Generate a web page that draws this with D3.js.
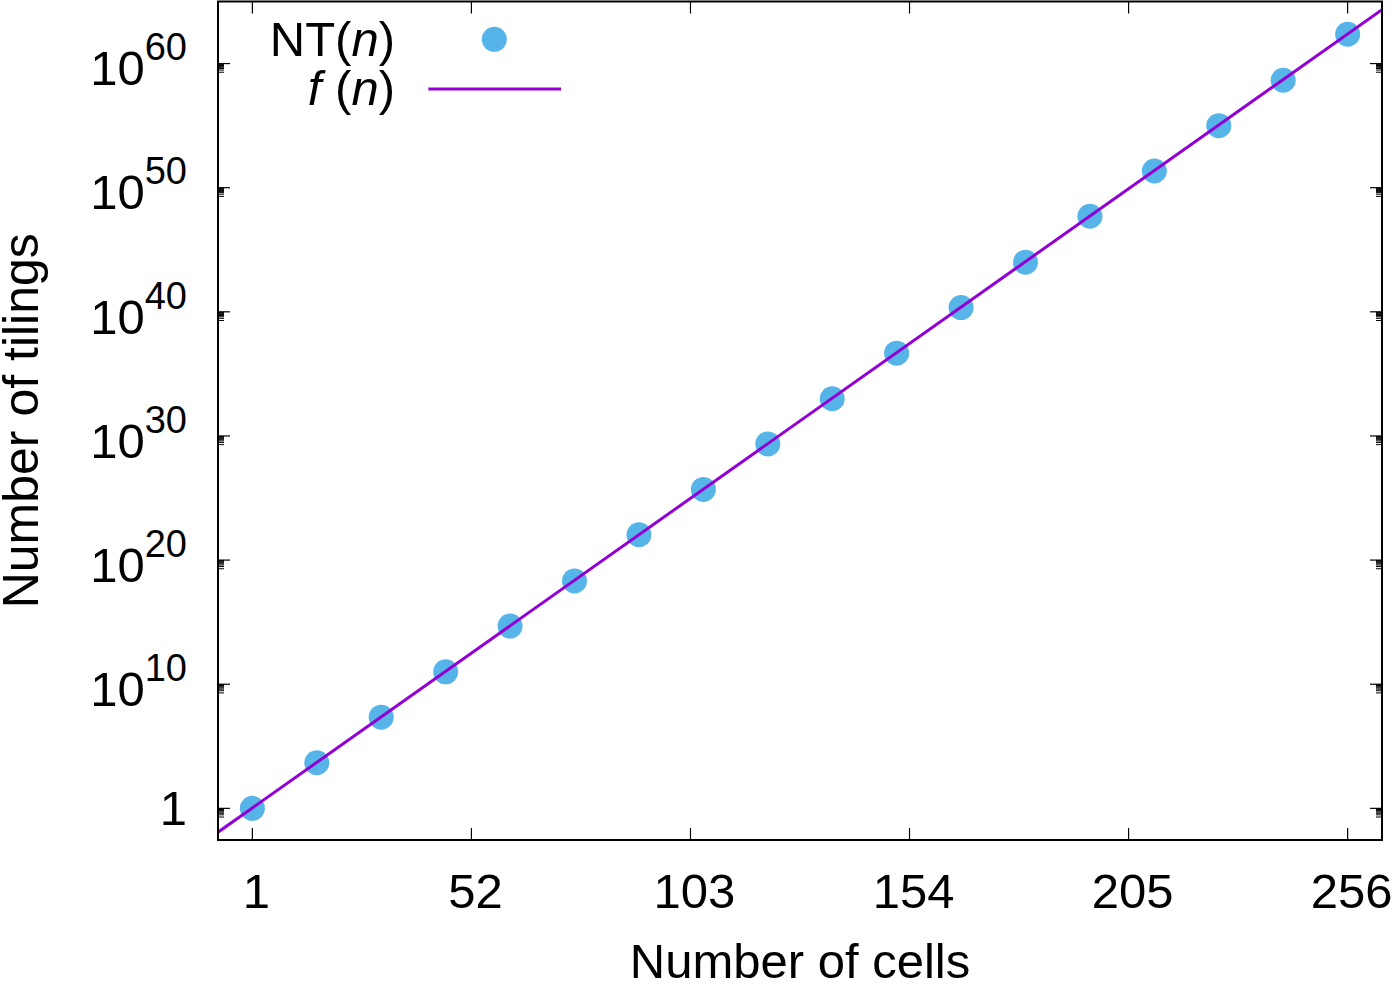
<!DOCTYPE html>
<html>
<head>
<meta charset="utf-8">
<script src="https://cdn.jsdelivr.net/npm/d3@7"></script>
<style>
  html, body { margin: 0; padding: 0; background: #fff; }
  svg { display: block; font-family: "Liberation Sans", Arial, sans-serif; }
</style>
</head>
<body>
<div id="chart"></div>
<script>
// data
const cells = [1, 16, 31, 46, 61, 76, 91, 106, 121, 136, 151, 166, 181, 196, 211, 226, 241, 256];
const tilings = [1, 4.7e3, 2.2e7, 1.0e11, 4.8e14, 2.1e18, 1.1e22, 4.9e25, 2.3e29, 1.0e33,
                 4.7e36, 2.2e40, 1.0e44, 5.0e47, 2.2e51, 1.0e55, 4.5e58, 2.3e62];
// fitted line f(n), its two ends at the edges of the x range
const fitCells = [-7, 264];
const fitValues = [1.2e-2, 2.2e64];

const xTicks = [1, 52, 103, 154, 205, 256];
const yTickExp = [0, 10, 20, 30, 40, 50, 60];

const W = 1395, H = 984;
const plotL = 218, plotR = 1382, plotT = 1.5, plotB = 840;

const x = d3.scaleLinear().domain([-7, 264]).range([plotL, plotR]);
const y = d3.scaleLog().domain([Math.pow(10, -2.55), 1e65]).range([plotB, plotT]);

const svg = d3.select("#chart").append("svg")
    .attr("width", W)
    .attr("height", H)
    .attr("viewBox", [0, 0, W, H]);

svg.append("defs").append("clipPath").attr("id", "clip")
  .append("rect")
    .attr("x", plotL).attr("y", plotT)
    .attr("width", plotR - plotL).attr("height", plotB - plotT);

// x ticks (bottom + mirrored top)
const gx = svg.append("g");
gx.append("g").selectAll("line").data(xTicks).join("line")
    .attr("x1", d => x(d)).attr("x2", d => x(d))
    .attr("y1", plotB).attr("y2", plotB - 12)
    .attr("stroke", "#000").attr("stroke-width", 1.2);
gx.append("g").selectAll("line").data(xTicks).join("line")
    .attr("x1", d => x(d)).attr("x2", d => x(d))
    .attr("y1", plotT).attr("y2", plotT + 12)
    .attr("stroke", "#000").attr("stroke-width", 1.2);
gx.append("g").selectAll("text").data(xTicks).join("text")
    .attr("x", d => x(d) + 4).attr("y", 908)
    .attr("text-anchor", "middle")
    .attr("font-size", 49)
    .text(d => d);

// y ticks: major every 10 decades, minor ticks k*10^(e-1)
const minor = [];
yTickExp.forEach(e => { for (let k = 2; k <= 9; k++) minor.push(k * Math.pow(10, e - 1)); });
const gy = svg.append("g");
[[plotL, 1], [plotR, -1]].forEach(([x0, dir]) => {
  gy.append("g").selectAll("line").data(yTickExp).join("line")
      .attr("x1", x0).attr("x2", x0 + dir * 12)
      .attr("y1", d => y(Math.pow(10, d))).attr("y2", d => y(Math.pow(10, d)))
      .attr("stroke", "#000").attr("stroke-width", 1.2);
  gy.append("g").selectAll("line").data(minor).join("line")
      .attr("x1", x0).attr("x2", x0 + dir * 6)
      .attr("y1", d => y(d)).attr("y2", d => y(d))
      .attr("stroke", "#000").attr("stroke-width", 1);
});
const ylab = gy.append("g").selectAll("text").data(yTickExp).join("text")
    .attr("x", 187)
    .attr("y", d => y(Math.pow(10, d)) + (d === 0 ? 16.7 : 21.7))
    .attr("text-anchor", "end")
    .attr("font-size", 49);
ylab.each(function(d) {
  const t = d3.select(this);
  if (d === 0) { t.text("1"); return; }
  t.append("tspan").text("10");
  t.append("tspan").attr("dy", -25).attr("font-size", 38).text(d);
});

const fitPath = d3.line().x(d => x(d[0])).y(d => y(d[1]))(d3.zip(fitCells, fitValues));

// data points
svg.append("g").selectAll("circle").data(d3.zip(cells, tilings)).join("circle")
    .attr("cx", d => x(d[0])).attr("cy", d => y(d[1]))
    .attr("r", 12.5)
    .attr("fill", "#56b4e9");

// fitted line, drawn over the points
svg.append("path")
    .attr("clip-path", "url(#clip)")
    .attr("fill", "none")
    .attr("stroke", "#9400d3")
    .attr("stroke-width", 3)
    .attr("d", fitPath);

// border
svg.append("rect")
    .attr("x", plotL).attr("y", plotT)
    .attr("width", plotR - plotL).attr("height", plotB - plotT)
    .attr("fill", "none").attr("stroke", "#000").attr("stroke-width", 2);

// legend
const leg = svg.append("g").attr("font-size", 49);
const t1 = leg.append("text").attr("x", 395).attr("y", 56).attr("text-anchor", "end");
t1.append("tspan").text("NT(");
t1.append("tspan").attr("font-style", "italic").text("n");
t1.append("tspan").text(")");
leg.append("circle").attr("cx", 494.3).attr("cy", 39.3).attr("r", 12.5).attr("fill", "#56b4e9");
const t2 = leg.append("text").attr("x", 395).attr("y", 105).attr("text-anchor", "end");
t2.append("tspan").attr("font-style", "italic").text("f");
t2.append("tspan").text(" (");
t2.append("tspan").attr("font-style", "italic").text("n");
t2.append("tspan").text(")");
leg.append("line").attr("x1", 428.3).attr("x2", 561).attr("y1", 89).attr("y2", 89)
    .attr("stroke", "#9400d3").attr("stroke-width", 3);

// axis titles
svg.append("text")
    .attr("x", (plotL + plotR) / 2).attr("y", 978)
    .attr("text-anchor", "middle").attr("font-size", 49)
    .text("Number of cells");
svg.append("text")
    .attr("transform", `translate(38,${(plotT + plotB) / 2}) rotate(-90)`)
    .attr("text-anchor", "middle").attr("font-size", 50)
    .text("Number of tilings");
</script>
</body>
</html>
